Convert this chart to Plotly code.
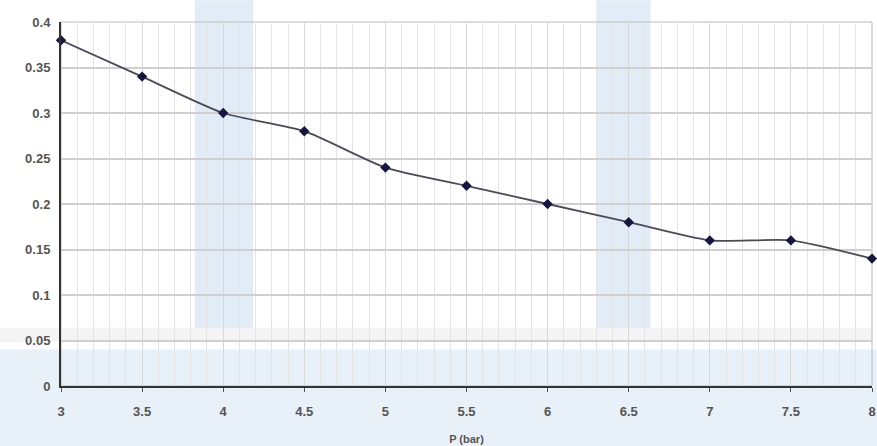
import plotly.graph_objects as go

pressure = [3, 3.5, 4, 4.5, 5, 5.5, 6, 6.5, 7, 7.5, 8]
values = [0.38, 0.34, 0.30, 0.28, 0.24, 0.22, 0.20, 0.18, 0.16, 0.16, 0.14]
x_ticks = [3, 3.5, 4, 4.5, 5, 5.5, 6, 6.5, 7, 7.5, 8]
y_ticks = [0, 0.05, 0.1, 0.15, 0.2, 0.25, 0.3, 0.35, 0.4]

fig = go.Figure()
fig.add_trace(go.Scatter(
    x=pressure, y=values, mode="lines+markers",
    line=dict(color="#4a4a5a", width=1.8, shape="spline", smoothing=0.6),
    marker=dict(symbol="diamond", size=8, color="#161640"),
    showlegend=False, cliponaxis=False,
))

# watermark-like background shapes
shapes = [
    dict(type="rect", xref="paper", yref="paper", x0=-0.1, x1=1.1, y0=-0.2, y1=0.1,
         fillcolor="rgba(214,228,242,0.55)", line_width=0, layer="below"),
    dict(type="rect", xref="paper", yref="paper", x0=-0.1, x1=1.0, y0=0.12, y1=0.16,
         fillcolor="rgba(205,205,205,0.22)", line_width=0, layer="below"),
    dict(type="rect", xref="paper", yref="paper", x0=0.165, x1=0.237, y0=0.16, y1=1.06,
         fillcolor="rgba(190,212,236,0.45)", line_width=0, layer="below"),
    dict(type="rect", xref="paper", yref="paper", x0=0.66, x1=0.727, y0=0.16, y1=1.06,
         fillcolor="rgba(190,212,236,0.45)", line_width=0, layer="below"),
    dict(type="rect", xref="paper", yref="paper", x0=0, x1=1, y0=0, y1=1,
         line=dict(color="#bbbbbb", width=1), layer="below"),
]

fig.update_layout(
    width=877, height=446,
    margin=dict(l=61, r=5, t=22, b=60),
    paper_bgcolor="white", plot_bgcolor="rgba(0,0,0,0)",
    shapes=shapes,
    font=dict(family="Liberation Sans, Arial", color="#555555"),
    xaxis=dict(
        range=[3, 8], tickvals=x_ticks, ticktext=[str(t) for t in x_ticks],
        automargin=False,
        showgrid=True, gridcolor="#d8d8d8", gridwidth=1,
        minor=dict(dtick=0.1, showgrid=True, gridcolor="#e4e4e4", gridwidth=1),
        showline=True, linecolor="#333333", linewidth=2,
        ticks="outside", ticklen=4, tickcolor="#555555",
        ticklabelstandoff=8,
        tickfont=dict(size=13, color="#555555", weight="bold"),
        zeroline=False,
        title=dict(text="<b>P (bar)</b>", font=dict(size=11, color="#555555"), standoff=18),
    ),
    yaxis=dict(
        range=[0, 0.4], tickvals=y_ticks,
        ticktext=["0", "0.05", "0.1", "0.15", "0.2", "0.25", "0.3", "0.35", "0.4"],
        automargin=False,
        showgrid=True, gridcolor="#cfcfcf", gridwidth=1.5,
        showline=True, linecolor="#333333", linewidth=2,
        ticks="", ticklabelstandoff=6,
        tickfont=dict(size=13, color="#555555", weight="bold"),
        zeroline=False,
    ),
)

fig.write_html("out.html", config={"displayModeBar": False},
               post_script="document.body.style.margin='0';document.body.style.overflow='hidden';")
